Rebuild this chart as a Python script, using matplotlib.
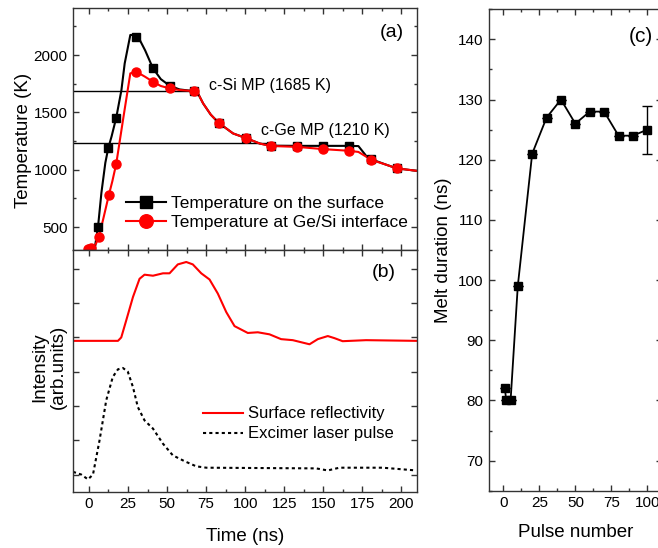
import matplotlib
matplotlib.use('Agg')
import matplotlib.pyplot as plt
from matplotlib.ticker import MultipleLocator, NullFormatter

plt.rcParams['font.family'] = ['Liberation Sans', 'DejaVu Sans']

# panel (a): simulated temperature
surf_line_t = [-1, 1.5, 4, 5.8, 8, 10.5, 12.4, 14.5, 17.5, 20.8, 22.9, 26.5, 30.9, 36, 41, 46, 51.7, 58, 67.3, 70,
               73.1, 78, 83.1, 92.3, 100.3, 109.4, 116.3, 133.3, 149.6, 166.5, 172.5, 177.8, 180.8, 190, 197, 210]
surf_line_T = [300, 310, 340, 499, 800, 1060, 1190, 1290, 1455, 1694, 1927, 2175, 2175, 2040, 1884, 1790, 1732, 1700, 1685, 1660,
               1578, 1480, 1408, 1316, 1277, 1228, 1210, 1208, 1208, 1208, 1206, 1115, 1091, 1045, 1012, 990]
intf_line_t = [-1, 1.5, 4, 6.4, 9.5, 12.8, 15, 17.5, 22, 26.5, 30.4, 36, 41, 46, 51.7, 58, 67.3, 70,
               73.1, 78, 83.1, 92.3, 100.3, 109.4, 116.3, 133.3, 149.6, 166.5, 172.5, 177.8, 180.8, 190, 197, 210]
intf_line_T = [300, 315, 340, 412, 590, 782, 900, 1053, 1450, 1840, 1854, 1810, 1767, 1730, 1709, 1695, 1685, 1660,
               1578, 1480, 1408, 1316, 1277, 1228, 1207, 1199, 1180, 1165, 1155, 1111, 1085, 1045, 1012, 990]

surf_mark_t = [1.5, 5.8, 12.4, 17.5, 30.4, 41, 51.7, 67.3, 83.1, 100.3, 116.3, 133.3, 149.6, 166.5, 180.8, 197]
surf_mark_T = [310, 499, 1190, 1455, 2160, 1884, 1732, 1685, 1408, 1277, 1207, 1207, 1207, 1207, 1091, 1012]
intf_mark_t = [-0.5, 1.5, 6.4, 12.8, 17.5, 30.4, 41, 51.7, 67.3, 83.1, 100.3, 116.3, 133.3, 149.6, 166.5, 180.8, 197]
intf_mark_T = [305, 318, 412, 782, 1053, 1854, 1767, 1709, 1685, 1408, 1277, 1207, 1199, 1180, 1165, 1085, 1012]

si_mp = 1685
si_mp_end = 67.3
ge_mp = 1237
ge_mp_end = 114

# panel (b): measured signals (arb. units)
refl_t = [-10.2, 18.6, 20.7, 23.9, 28.2, 32.4, 35.6, 41, 47.4, 51.6, 56.9, 62.3, 66.5, 71.9, 77.2, 82.5, 87.9, 93.2,
          101.7, 108.1, 115.6, 123, 130.5, 141.2, 146.5, 152.9, 157.1, 162.4, 177.4, 209.4]
refl_val = [3.9, 3.9, 4.0, 4.5, 5.18, 5.71, 5.83, 5.80, 5.87, 5.87, 6.13, 6.2, 6.13, 5.87, 5.69, 5.28, 4.74, 4.33,
            4.13, 4.15, 4.09, 3.95, 3.92, 3.8, 3.95, 4.04, 3.98, 3.89, 3.92, 3.9]
laser_t = [-10.2, -4.9, -0.6, 2.6, 6.8, 11.1, 15.3, 18.6, 21.7, 24.9, 28.2, 31.3, 35.6, 41, 47.4, 53.7, 61.2, 68.7,
           75.1, 145.4, 152.9, 160.3, 188, 209.4]
laser_val = [0.08, 0.0, -0.14, 0.0, 1.0, 2.17, 2.85, 3.07, 3.11, 3.0, 2.55, 1.97, 1.58, 1.34, 0.9, 0.56, 0.39, 0.24,
             0.2, 0.18, 0.12, 0.2, 0.2, 0.12]

# panel (c): melt duration vs pulse number
pulses = [1, 2, 5, 10, 20, 30, 40, 50, 60, 70, 80, 90, 100]
melt = [82, 80, 80, 99, 121, 127, 130, 126, 128, 128, 124, 124, 125]
melt_err = [0, 0, 0, 0, 0, 0, 0, 0, 0, 0, 0, 0, 4]

W, H = 658, 548
fig = plt.figure(figsize=(W / 100, H / 100), dpi=100)


def box(l, t, r, b):
    return [l / W, 1 - b / H, (r - l) / W, (b - t) / H]


def style(ax):
    for s in ax.spines.values():
        s.set_color('#333333')
        s.set_linewidth(1.0)
    ax.tick_params(which='both', direction='in', top=True, right=True, color='#333333', width=1)
    ax.tick_params(which='major', length=4, labelsize=11, pad=4)
    ax.tick_params(which='minor', length=2)


ax_a = fig.add_axes(box(73.3, 8, 417, 250))
ax_b = fig.add_axes(box(73.3, 250, 417, 491.7))
ax_c = fig.add_axes(box(489, 9.3, 661.7, 490.7))

# (a)
ax_a.plot([-10, si_mp_end], [si_mp, si_mp], color='black', lw=1)
ax_a.plot([-10, ge_mp_end], [ge_mp, ge_mp], color='black', lw=1)
ax_a.plot(surf_line_t, surf_line_T, color='black', lw=1.5)
ax_a.plot(intf_line_t, intf_line_T, color='red', lw=1.5)
ax_a.plot(surf_mark_t, surf_mark_T, 's', color='black', ms=5.5)
ax_a.plot(intf_mark_t, intf_mark_T, 'o', color='red', ms=6.5)
h1, = ax_a.plot([], [], 's-', color='black', ms=5.5, lw=1.5)
h2, = ax_a.plot([], [], 'o-', color='red', ms=6.5, lw=1.5)
ax_a.legend([h1, h2], ['Temperature on the surface', 'Temperature at Ge/Si interface'],
            loc='upper left', bbox_to_anchor=(0.153, 0.225), borderaxespad=0, borderpad=0,
            frameon=False, fontsize=12.5, handlelength=2.3, handletextpad=0.3,
            labelspacing=0.22, markerscale=1.5)
ax_a.text(76.7, 1738, 'c-Si MP (1685 K)', fontsize=11.5, va='center', ha='left')
ax_a.text(110.3, 1344, 'c-Ge MP (1210 K)', fontsize=11.5, va='center', ha='left')
ax_a.text(194, 2195, '(a)', fontsize=14, va='center', ha='center')
ax_a.set_xlim(-10, 210)
ax_a.set_ylim(300, 2410)
ax_a.xaxis.set_major_locator(MultipleLocator(25))
ax_a.xaxis.set_minor_locator(MultipleLocator(12.5))
ax_a.yaxis.set_minor_locator(MultipleLocator(250))
ax_a.set_yticks([500, 1000, 1500, 2000])
ax_a.xaxis.set_major_formatter(NullFormatter())
style(ax_a)
ax_a.set_ylabel('Temperature (K)', fontsize=13.5)
ax_a.yaxis.set_label_coords(-0.12, 0.452)

# (b)
ax_b.plot(refl_t, refl_val, color='red', lw=1.5, label='Surface reflectivity')
ax_b.plot(laser_t, laser_val, color='black', lw=1.5, ls=(0, (1.5, 1.5)), label='Excimer laser pulse')
ax_b.legend(loc='upper left', bbox_to_anchor=(0.378, 0.353), borderaxespad=0, borderpad=0,
            frameon=False, fontsize=12, handlelength=2.4, handletextpad=0.3, labelspacing=0.3)
ax_b.text(188.5, 5.9, '(b)', fontsize=14, va='center', ha='center')
ax_b.set_xlim(-10, 210)
ax_b.set_ylim(-0.5, 6.55)
ax_b.xaxis.set_minor_locator(MultipleLocator(12.5))
ax_b.set_xticks(range(0, 201, 25))
ax_b.yaxis.set_major_locator(MultipleLocator(1))
ax_b.yaxis.set_major_formatter(NullFormatter())
style(ax_b)
ax_b.set_xlabel('Time (ns)', fontsize=13.5, labelpad=12)
ax_b.set_ylabel('Intensity\n(arb.units)', fontsize=13.5, linespacing=1.1)
ax_b.yaxis.set_label_coords(-0.02, 0.517)

# (c)
ax_c.errorbar(pulses, melt, yerr=melt_err, fmt='s-', color='black', ms=5.5, lw=1.3,
              capsize=3.5, elinewidth=1, capthick=1)
ax_c.text(95.5, 140.5, '(c)', fontsize=15, va='center', ha='center')
ax_c.set_xlim(-10, 110)
ax_c.set_ylim(65, 145)
ax_c.set_xticks([0, 25, 50, 75, 100])
ax_c.xaxis.set_minor_locator(MultipleLocator(12.5))
ax_c.set_yticks(range(70, 141, 10))
ax_c.yaxis.set_minor_locator(MultipleLocator(5))
style(ax_c)
ax_c.set_xlabel('Pulse number', fontsize=13.5, labelpad=10)
ax_c.set_ylabel('Melt duration (ns)', fontsize=13.5)

fig.savefig('out.png', dpi=100)
